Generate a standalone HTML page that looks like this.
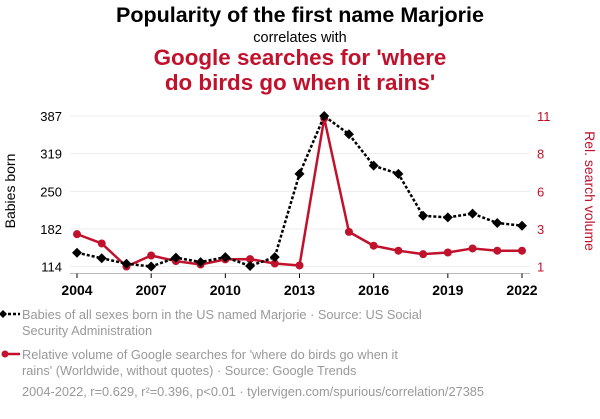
<!DOCTYPE html>
<html><head><meta charset="utf-8">
<style>
body{margin:0;background:#fff;width:600px;height:414px;overflow:hidden;font-family:"Liberation Sans",Arial,sans-serif;}
svg text{font-family:"Liberation Sans",Arial,sans-serif;}
</style></head>
<body>
<svg id="chart" width="600" height="414" viewBox="0 0 600 414" xmlns="http://www.w3.org/2000/svg">
<text x="300" y="22" text-anchor="middle" font-size="21.5" font-weight="bold" fill="#000">Popularity of the first name Marjorie</text>
<text x="300" y="42" text-anchor="middle" font-size="14.5" fill="#000">correlates with</text>
<text x="300" y="65" text-anchor="middle" font-size="22.4" font-weight="bold" fill="#c0122c">Google searches for 'where</text>
<text x="300" y="90" text-anchor="middle" font-size="22.4" font-weight="bold" fill="#c0122c">do birds go when it rains'</text>
<g id="grid"></g><g id="axes"></g><g id="series"></g>
<text transform="translate(15,191) rotate(-90)" text-anchor="middle" font-size="14" fill="#000">Babies born</text>
<text transform="translate(585,191) rotate(90)" text-anchor="middle" font-size="14" fill="#c0122c">Rel. search volume</text>
<g>
<line x1="3" y1="314" x2="20" y2="314" stroke="#000" stroke-width="2.5" stroke-dasharray="3,2"/>
<path d="M3 310 L7 314 L3 318 L-1 314Z" fill="#000"/>
<text x="22" y="319" font-size="12.8" fill="#999">Babies of all sexes born in the US named Marjorie · Source: US Social</text>
<text x="22" y="335" font-size="12.8" fill="#999">Security Administration</text>
</g>
<g>
<line x1="3" y1="354" x2="20" y2="354" stroke="#c0122c" stroke-width="2.5"/>
<circle cx="5" cy="354" r="3.5" fill="#c0122c"/>
<text x="22" y="359" font-size="12.8" fill="#999">Relative volume of Google searches for 'where do birds go when it</text>
<text x="22" y="375" font-size="12.8" fill="#999">rains' (Worldwide, without quotes) · Source: Google Trends</text>
</g>
<text x="22" y="396" font-size="12.8" fill="#999">2004-2022, r=0.629, r²=0.396, p&lt;0.01 · tylervigen.com/spurious/correlation/27385</text>
</svg>
<script>
const years=[2004,2005,2006,2007,2008,2009,2010,2011,2012,2013,2014,2015,2016,2017,2018,2019,2020,2021,2022];
const babies=[139,129,119,114,130,122,131,115,131,282,387,354,297,282,206,203,210,193,188];
const searches=[3.15,2.53,1.0,1.73,1.36,1.13,1.47,1.49,1.2,1.07,10.85,3.3,2.38,2.05,1.82,1.93,2.2,2.05,2.05];
const leftTicks=[114,182,250,319,387];
const rightTicks=[1,3.5,6,8.5,11];
const rightTickLabels=["1","3","6","8","11"];
const xTicks=[2004,2007,2010,2013,2016,2019,2022];

const NS="http://www.w3.org/2000/svg";
const X0=77,X1=522,YT=116,YB=266.5;
const x=v=>X0+(v-2004)/(2022-2004)*(X1-X0);
const yL=v=>YB-(v-114)/(387-114)*(YB-YT);
const yR=v=>YB-(v-1)/(11-1)*(YB-YT);
function mk(tag,attrs,parent){const e=document.createElementNS(NS,tag);for(const k in attrs)e.setAttribute(k,attrs[k]);parent.appendChild(e);return e;}
const grid=document.getElementById('grid'),axes=document.getElementById('axes'),series=document.getElementById('series');

leftTicks.forEach((t,i)=>{
  const g=mk('line',{x1:70,x2:530,y1:yL(t),y2:yL(t),stroke:'#eee','stroke-width':1},grid);
  
  
  const tx=mk('text',{x:62,y:yL(t)+5,'text-anchor':'end','font-size':13,fill:'#000'},axes);
  tx.textContent=t;
  
  
});
rightTicks.forEach((t,i)=>{
  const tx=mk('text',{x:537,y:yR(t)+5,'text-anchor':'start','font-size':13,fill:'#c0122c'},axes);
  tx.textContent=rightTickLabels[i];
  
  
});
const xa=mk('line',{x1:70,x2:530,y1:273.5,y2:273.5,stroke:'#bbb'},axes);


xTicks.forEach(t=>{
  const tk=mk('line',{x1:x(t),x2:x(t),y1:273.5,y2:278,stroke:'#000'},axes);
  
  
  const tx=mk('text',{x:x(t),y:295,'text-anchor':'middle','font-size':14,'font-weight':'bold',fill:'#000'},axes);
  tx.textContent=t;
  
  
});
const rp=mk('polyline',{points:years.map((y,i)=>x(y)+','+yR(searches[i])).join(' '),fill:'none',stroke:'#c0122c','stroke-width':2.5,'stroke-linejoin':'round'},series);


years.forEach((y,i)=>{
  const c=mk('circle',{cx:x(y),cy:yR(searches[i]),r:4,fill:'#c0122c'},series);
  
  
});
const bp=mk('polyline',{points:years.map((y,i)=>x(y)+','+yL(babies[i])).join(' '),fill:'none',stroke:'#000','stroke-width':2.5,'stroke-dasharray':'3,2'},series);


years.forEach((y,i)=>{
  const cx=x(y),cy=yL(babies[i]);
  const d=mk('path',{d:`M${cx} ${cy-5}L${cx+5} ${cy}L${cx} ${cy+5}L${cx-5} ${cy}Z`,fill:'#000'},series);
  
  
});
</script>
</body></html>
